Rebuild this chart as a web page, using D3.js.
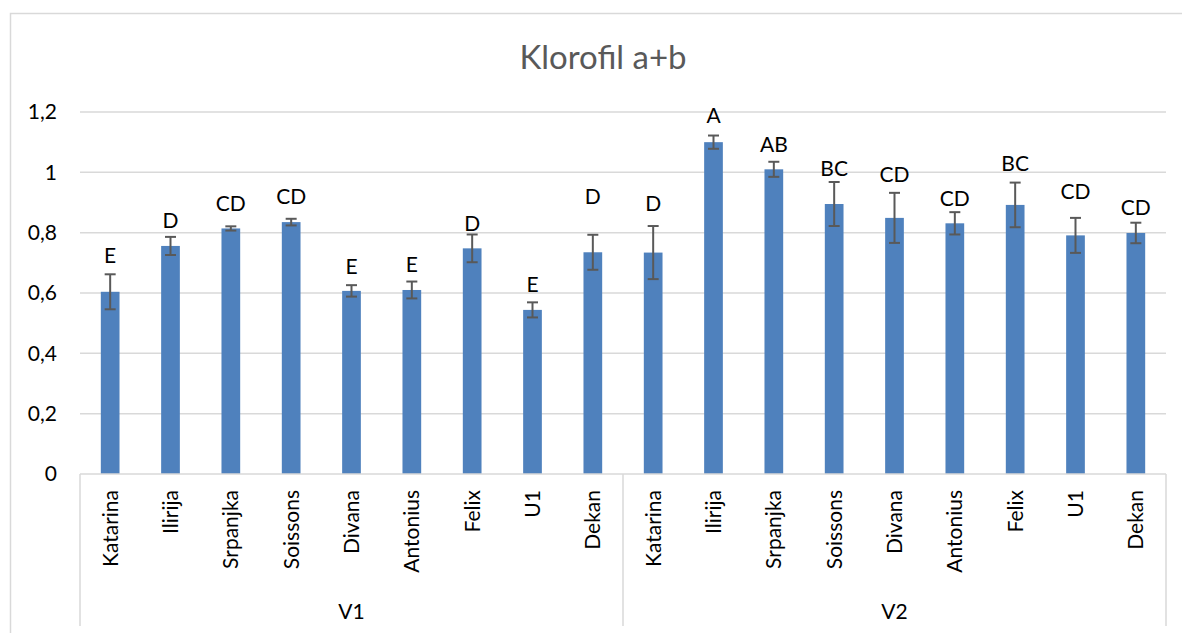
<!DOCTYPE html>
<html>
<head>
<meta charset="utf-8">
<script src="https://cdn.jsdelivr.net/npm/d3@7"></script>
<style>
  html, body { margin: 0; padding: 0; background: #fff; }
  svg { display: block; }
  text { font-family: Lato, "Liberation Sans", sans-serif; }
</style>
</head>
<body>
<svg id="chart" width="1182" height="633"></svg>
<script>
// ---- data ----
const title = "Klorofil a+b";
const groups = ["V1", "V2"];
const varieties = ["Katarina", "Ilirija", "Srpanjka", "Soissons", "Divana", "Antonius", "Felix", "U1", "Dekan"];
const valuesV1 = [0.604, 0.756, 0.814, 0.835, 0.607, 0.610, 0.748, 0.544, 0.735];
const valuesV2 = [0.734, 1.100, 1.010, 0.895, 0.849, 0.831, 0.892, 0.791, 0.799];
const errorsV1 = [0.058, 0.030, 0.007, 0.011, 0.019, 0.028, 0.046, 0.025, 0.058];
const errorsV2 = [0.088, 0.022, 0.025, 0.073, 0.083, 0.037, 0.074, 0.058, 0.034];
const lettersV1 = ["E", "D", "CD", "CD", "E", "E", "D", "E", "D"];
const lettersV2 = ["D", "A", "AB", "BC", "CD", "CD", "BC", "CD", "CD"];
// height (in data units) at which each significance letter is centred
const letterAtV1 = [0.723, 0.840, 0.897, 0.919, 0.687, 0.695, 0.831, 0.628, 0.919];
const letterAtV2 = [0.897, 1.187, 1.094, 1.014, 0.994, 0.915, 1.031, 0.938, 0.883];
const yTicks = [0, 0.2, 0.4, 0.6, 0.8, 1.0, 1.2];

// ---- build rows ----
const rows = [];
groups.forEach((g, gi) => {
  const vals = gi === 0 ? valuesV1 : valuesV2;
  const errs = gi === 0 ? errorsV1 : errorsV2;
  const lets = gi === 0 ? lettersV1 : lettersV2;
  const lpos = gi === 0 ? letterAtV1 : letterAtV2;
  varieties.forEach((v, i) => {
    rows.push({ key: g + "|" + v, group: g, variety: v, value: vals[i], err: errs[i], letter: lets[i], letterAt: lpos[i] });
  });
});

// ---- layout ----
const svg = d3.select("#chart");
const plotL = 80, plotR = 1166, plotT = 112, plotB = 474, axisBottom = 626;
const gridColor = "#d9d9d9";

svg.append("rect")
  .attr("x", 10.5).attr("y", 13.5).attr("width", 1300).attr("height", 700)
  .attr("fill", "#fff").attr("stroke", gridColor).attr("stroke-width", 1.5);

const x = d3.scaleBand().domain(rows.map(d => d.key)).range([plotL, plotR])
  .paddingInner(0.69).paddingOuter(0.345);
const y = d3.scaleLinear().domain([0, 1.2]).range([plotB, plotT]);
const fmt = v => d3.format("~g")(v).replace(".", ",");

// title
svg.append("text")
  .attr("x", 603).attr("y", 69)
  .attr("text-anchor", "middle")
  .attr("font-size", 33).attr("fill", "#595959")
  .text(title);

// gridlines
svg.append("g").selectAll("line").data(yTicks.filter(t => t > 0)).join("line")
  .attr("x1", plotL).attr("x2", plotR)
  .attr("y1", d => y(d)).attr("y2", d => y(d))
  .attr("stroke", gridColor).attr("stroke-width", 1.5);

// y axis labels
const yAxis = d3.axisLeft(y).tickValues(yTicks).tickFormat(fmt).tickSize(0).tickPadding(23);
const yg = svg.append("g").attr("transform", `translate(${plotL},0)`).call(yAxis);
yg.select(".domain").remove();
yg.selectAll("text").attr("font-size", 21).attr("fill", "#000")
  .attr("font-family", "Lato, 'Liberation Sans', sans-serif");

// bars
svg.append("g").selectAll("rect").data(rows).join("rect")
  .attr("x", d => x(d.key)).attr("width", x.bandwidth())
  .attr("y", d => y(d.value)).attr("height", d => y(0) - y(d.value))
  .attr("fill", "#4f81bd");

// error bars
const eb = svg.append("g").attr("stroke", "#595959").attr("stroke-width", 2);
rows.forEach(d => {
  const cx = x(d.key) + x.bandwidth() / 2;
  const capW = 5.5;
  eb.append("line").attr("x1", cx).attr("x2", cx).attr("y1", y(d.value + d.err)).attr("y2", y(d.value - d.err));
  eb.append("line").attr("x1", cx - capW).attr("x2", cx + capW).attr("y1", y(d.value + d.err)).attr("y2", y(d.value + d.err));
  eb.append("line").attr("x1", cx - capW).attr("x2", cx + capW).attr("y1", y(d.value - d.err)).attr("y2", y(d.value - d.err));
});

// significance letters
svg.append("g").selectAll("text").data(rows).join("text")
  .attr("x", d => x(d.key) + x.bandwidth() / 2)
  .attr("y", d => y(d.letterAt))
  .attr("dy", "0.36em")
  .attr("text-anchor", "middle")
  .attr("font-size", 21).attr("fill", "#000")
  .text(d => d.letter);

// x axis baseline
svg.append("line").attr("x1", plotL).attr("x2", plotR).attr("y1", plotB).attr("y2", plotB)
  .attr("stroke", gridColor).attr("stroke-width", 1.5);

// group separators
const groupEdges = [plotL, (plotL + plotR) / 2, plotR];
svg.append("g").selectAll("line").data(groupEdges).join("line")
  .attr("x1", d => d).attr("x2", d => d).attr("y1", plotB).attr("y2", axisBottom)
  .attr("stroke", gridColor).attr("stroke-width", 1.5);

// category labels (rotated)
svg.append("g").selectAll("text").data(rows).join("text")
  .attr("transform", d => `translate(${x(d.key) + x.bandwidth() / 2},${plotB + 16}) rotate(-90)`)
  .attr("text-anchor", "end")
  .attr("dy", "0.36em")
  .attr("font-size", 21).attr("fill", "#000")
  .text(d => d.variety);

// group labels
svg.append("g").selectAll("text").data(groups).join("text")
  .attr("x", (d, i) => (groupEdges[i] + groupEdges[i + 1]) / 2)
  .attr("y", 611).attr("dy", "0.36em")
  .attr("text-anchor", "middle")
  .attr("font-size", 21).attr("fill", "#000")
  .text(d => d);
</script>
</body>
</html>
